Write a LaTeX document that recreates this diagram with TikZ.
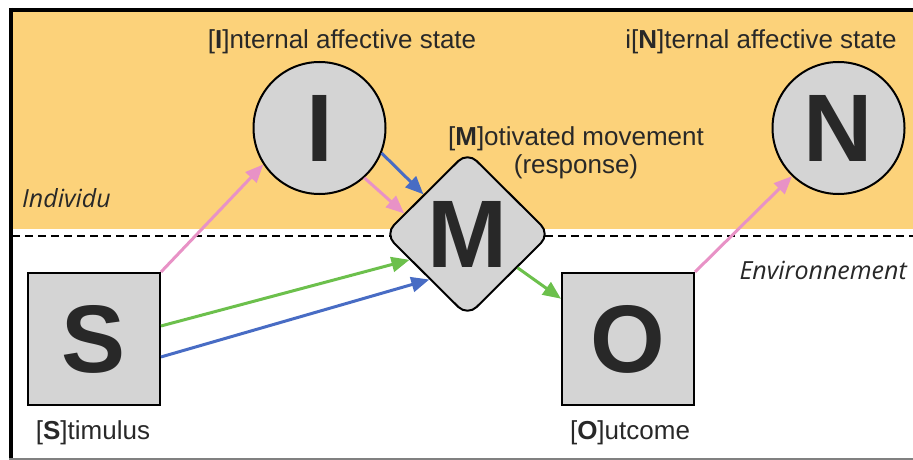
\documentclass[tikz,border=0pt]{standalone}
\usepackage{fontspec}
\setmainfont{Liberation Sans}
\newfontfamily\itfont{Open Sans}
\usetikzlibrary{shapes.geometric,arrows.meta}
\definecolor{bgorange}{RGB}{252,210,122}
\definecolor{nodegray}{RGB}{212,212,212}
\definecolor{pinkarrow}{RGB}{232,146,198}
\definecolor{bluearrow}{RGB}{72,108,196}
\definecolor{greenarrow}{RGB}{108,192,76}
\definecolor{txt}{RGB}{40,40,40}
\tikzset{
  box/.style={draw=black,line width=2pt,fill=nodegray,minimum size=132pt,inner sep=0pt,
    font=\fontsize{96}{96}\selectfont\bfseries,text=txt},
  roundnode/.style={circle,draw=black,line width=2pt,fill=nodegray,minimum size=132pt,inner sep=0pt,
    font=\fontsize{96}{96}\selectfont\bfseries,text=txt},
  diamondnode/.style={diamond,draw=black,line width=2pt,fill=nodegray,minimum width=166pt,minimum height=165pt,
    inner sep=0pt,rounded corners=13pt},
  lbl/.style={font=\fontsize{26}{28}\selectfont,text=txt,inner sep=0pt,align=center},
  itlbl/.style={font=\itfont\itshape\fontsize{25}{27}\selectfont,text=txt,inner sep=0pt},
  conn/.style={line width=3pt,-{Triangle[length=18pt,width=15pt]}},
}
\begin{document}
\begin{tikzpicture}[x=1pt,y=-1pt]
\useasboundingbox (0,0) rectangle (913,460);
% background
\fill[bgorange] (12,12) rectangle (913,229);
\draw[line width=1.5pt,dash pattern=on 8pt off 5pt] (12,236) -- (913,236);
% frame
\draw[line width=4pt] (9,10) -- (913,10);
\draw[line width=4pt] (11,8) -- (11,460);
\draw[line width=2pt,gray] (9,459) -- (913,459);
% nodes
\node[roundnode] (I) at (319.5,128) {I};
\node[roundnode] (N) at (838.5,128) {N};
\node[diamondnode,label={[font=\fontsize{96}{96}\selectfont\bfseries,text=txt]center:M}] (M) at (467.5,234) {};
\node[box] (S) at (94,339) {S};
\node[box] (O) at (628,339) {O};
% labels
\node[lbl] (tI) at (342,42) {[\textbf{I}]nternal affective state};
\node[lbl] (tN) at (761,42) {i[\textbf{N}]ternal affective state};
\node[lbl] (tM) at (576,153) {[\textbf{M}]otivated movement\\(response)};
\node[lbl] (tS) at (93,433) {[\textbf{S}]timulus};
\node[lbl] (tO) at (630,433) {[\textbf{O}]utcome};
\node[itlbl,anchor=west] (ind) at (22,198) {Individu};
\node[itlbl,anchor=east] (env) at (907,270) {Environnement};
% connectors
\draw[conn,pinkarrow] (S.north east) -- (I.213);
\draw[conn,pinkarrow] (I.-48) -- (M.162);
\draw[conn,bluearrow] (I.-22) -- (M.138);
\draw[conn,greenarrow] (S.11) -- (M.204);
\draw[conn,bluearrow] (S.-15) -- (M.230);
\draw[conn,greenarrow] (M.-34) -- (O.149);
\draw[conn,pinkarrow] (O.north east) -- (N.226);
\end{tikzpicture}
\end{document}
